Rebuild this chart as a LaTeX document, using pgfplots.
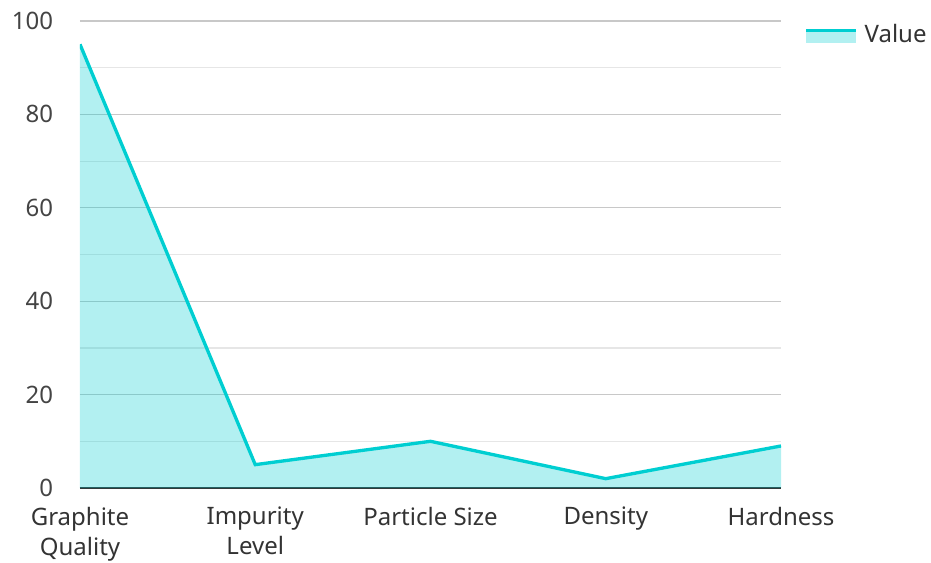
\documentclass[border=0pt]{standalone}
\usepackage{pgfplots}
\pgfplotsset{compat=1.18}
\usepackage{fontspec}
\setmainfont{Noto Sans}
\definecolor{lineC}{HTML}{00CED1}
\definecolor{txtC}{HTML}{333333}
\definecolor{tickC}{HTML}{444444}
\definecolor{majgrid}{HTML}{C8C8C8}
\definecolor{mingrid}{HTML}{E6E6E6}
\begin{document}
\begin{tikzpicture}
\begin{axis}[
  name=ax,
  scale only axis,
  width=525.75pt, height=350.25pt,
  xmin=0, xmax=4, ymin=0, ymax=100,
  xtick={0,1,2,3,4},
  xticklabels={{Graphite\\Quality},{Impurity\\Level},{Particle Size},{Density},{Hardness}},
  ytick={0,20,40,60,80,100},
  minor y tick num=1,
  ymajorgrids, yminorgrids,
  major grid style={draw=majgrid, line width=0.9pt},
  minor grid style={draw=mingrid, line width=0.9pt},
  major tick length=0pt, minor tick length=0pt,
  separate axis lines,
  axis x line*=bottom, axis y line*=left,
  y axis line style={draw=none},
  x axis line style={draw=txtC, line width=1.6pt, -},
  tick label style={font=\fontsize{18}{22.5}\selectfont},
  yticklabel style={text=tickC, inner sep=0pt, anchor=east, xshift=-20pt},
  xticklabel style={text=txtC, inner sep=0pt, anchor=north, align=center, yshift=-14pt},
  /pgf/number format/assume math mode=true,
  legend style={at={(1,1)}, anchor=north west, xshift=14.5pt, yshift=1.5pt, draw=none, fill=none,
    font=\fontsize{18}{23}\selectfont, text=txtC, cells={anchor=west}, column sep=3pt},
  legend image code/.code={
    \fill[lineC, fill opacity=0.3] (0pt,-6pt) rectangle (37.5pt,3pt);
    \draw[lineC, line width=2.5pt] (0pt,3pt) -- (37.5pt,3pt);
  },
]
\addplot[draw=none, fill=lineC, fill opacity=0.3] coordinates {(0,95) (1,5) (2,10) (3,2) (4,9)} \closedcycle;
\addlegendentry{Value}
\addplot[lineC, line width=2.5pt, forget plot] coordinates {(0,95) (1,5) (2,10) (3,2) (4,9)};
\end{axis}
\pgfresetboundingbox
\path[use as bounding box] ([shift={(-60pt,-55.5pt)}]ax.south west) rectangle ([shift={(638.25pt,366pt)}]ax.south west);
\end{tikzpicture}
\end{document}
